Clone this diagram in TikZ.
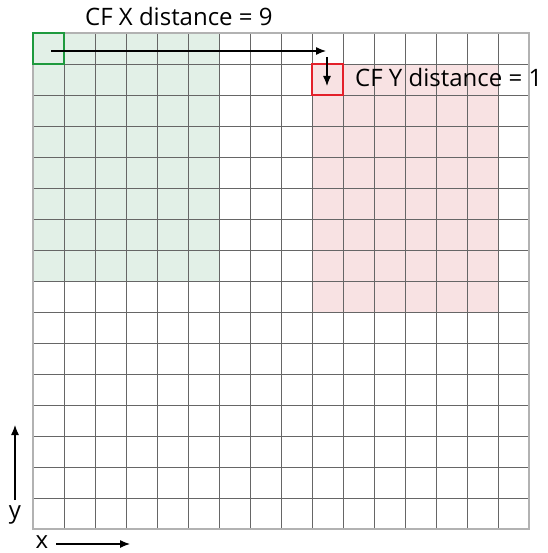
\documentclass[tikz,border=0pt]{standalone}
\usepackage{fontspec}
\setmainfont{Open Sans}
\usetikzlibrary{arrows.meta,positioning}

\begin{document}
\begin{tikzpicture}[x=1pt,y=-1pt,>={Latex[length=10pt,width=8pt]},font=\fontsize{24}{28}\selectfont]
  \tikzset{gridline/.style={draw=black!60,line width=0.8pt},
    gridframe/.style={draw=black!30,line width=1.6pt},
    cellbox/.style={draw,line width=1.6pt,minimum size=31pt,inner sep=0pt},
    pointer/.style={->,black,line width=1.2pt},
    caption/.style={inner sep=0pt}}
  \definecolor{srcfill}{HTML}{E2F0E7}
  \definecolor{dstfill}{HTML}{F8E2E3}
  \definecolor{srcline}{HTML}{1E9A3E}
  \definecolor{dstline}{HTML}{E3202A}
  \useasboundingbox (0,0) rectangle (547,553);

  % shaded receptive fields
  \fill[srcfill] (33,33) rectangle (219,281);
  \fill[dstfill] (312,64) rectangle (498,312);

  % 16 x 16 grid
  \foreach \i in {1,...,15} {
    \draw[gridline] ({33+31*\i},33) -- ({33+31*\i},529);
    \draw[gridline] (33,{33+31*\i}) -- (529,{33+31*\i});
  }
  \draw[gridframe] (33,33) rectangle (529,529);

  \node[cellbox,draw=srcline] (src) at (48.5,48.5) {};
  \node[cellbox,draw=dstline] (dst) at (327.5,79.5) {};

  \node[caption,anchor=base west] (xdist) at (85,26) {CF X distance = 9};
  \node[caption,anchor=base west] (ydist) at (355,87) {CF Y distance = 1};

  \coordinate (xend) at (326,51);
  \coordinate (ystart) at (327,57);
  \coordinate (yend) at (327,86);
  \draw[pointer] ([shift={(2.5,2.5)}]src.center) -- (xend);
  \draw[pointer] (ystart) -- (yend);

  % axes
  \node[caption,anchor=base] (ylab) at (15,518) {y};
  \node[caption,anchor=base] (xlab) at (42,548) {x};
  \coordinate (ybase) at (15,500);
  \coordinate (ytip) at (15,425);
  \coordinate (xbase) at (56,544);
  \coordinate (xtip) at (130,544);
  \draw[pointer] (ybase) -- (ytip);
  \draw[pointer] (xbase) -- (xtip);
\end{tikzpicture}
\end{document}
